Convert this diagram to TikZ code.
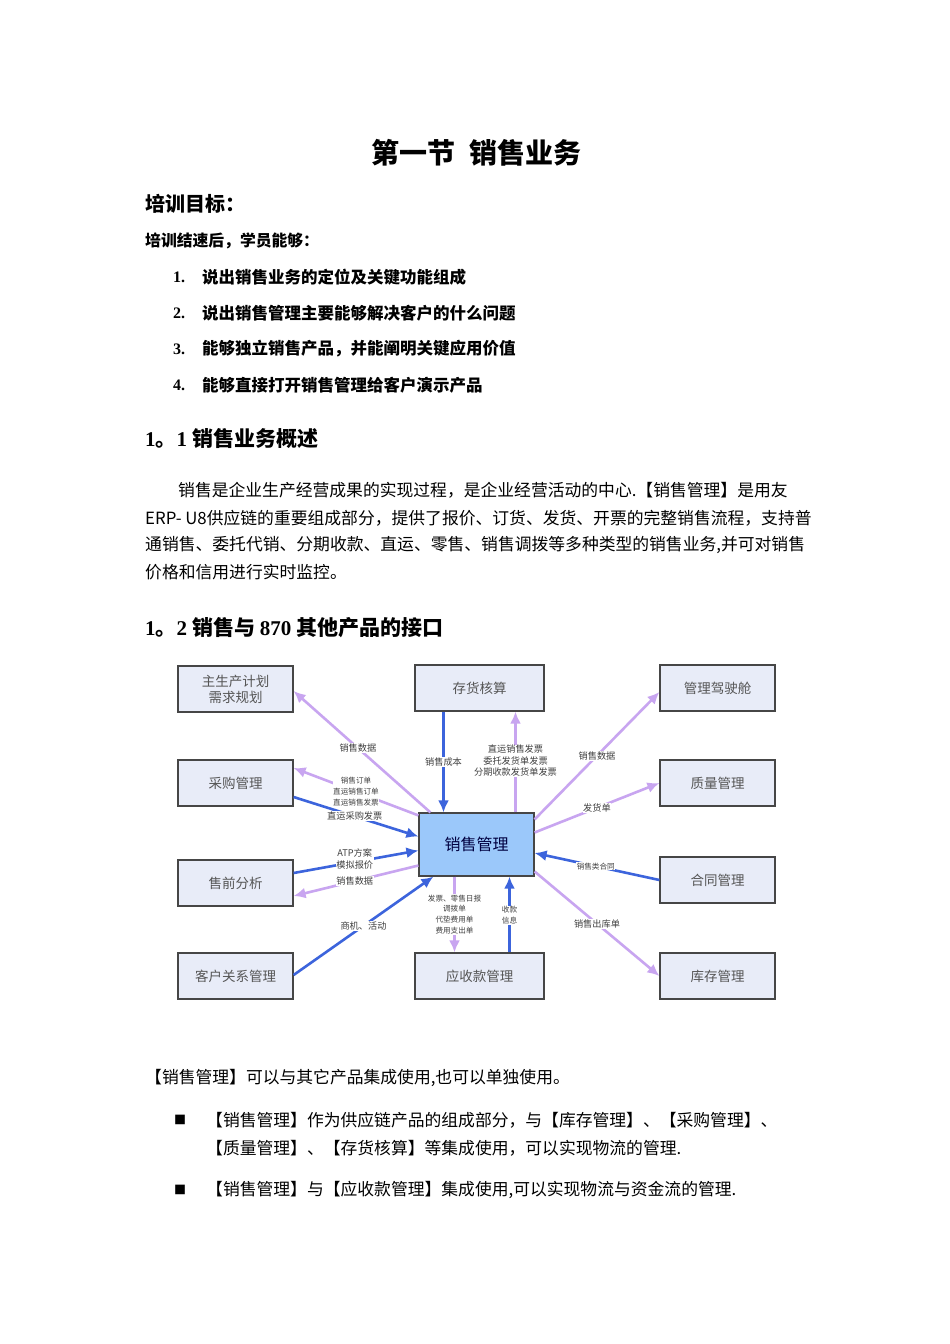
\documentclass[tikz,border=0pt]{standalone}
\usepackage{fontspec}
\setmainfont{Liberation Serif}
\newfontfamily\cjk{Noto Sans CJK SC}
\usetikzlibrary{arrows.meta,positioning}

\definecolor{boxfill}{RGB}{232,236,248}
\definecolor{boxline}{RGB}{70,70,70}
\definecolor{salesfill}{RGB}{155,200,250}
\definecolor{flowblue}{RGB}{60,100,220}
\definecolor{flowpurple}{RGB}{200,165,240}
\definecolor{boxtext}{RGB}{85,85,85}
\newcommand{\fsz}[2]{\fontsize{#1}{#2}\selectfont}

\begin{document}
\begin{tikzpicture}[x=1pt,y=-1pt,
    txt/.style={anchor=west, inner sep=0pt, font=\cjk\fsz{16.8}{20}},
    head/.style={anchor=west, inner sep=0pt, font=\cjk\bfseries\fsz{21}{24}},
    item/.style={anchor=west, inner sep=0pt, font=\cjk\bfseries\fsz{16.5}{20}},
    num/.style={anchor=west, inner sep=0pt, font=\rmfamily\bfseries\fsz{16}{20}},
    mod/.style={draw=boxline, line width=1.2pt, fill=boxfill, minimum width=115pt, minimum height=46pt, inner sep=0pt, align=center, font=\cjk\fsz{13.5}{16}, text=boxtext},
    lbl/.style={fill=white, inner sep=0.6pt, align=center, font=\cjk\fsz{9.2}{11.5}, text=black!75},
    smalllbl/.style={lbl, font=\cjk\fsz{7.6}{10.8}},
    barr/.style={-{Latex[length=12pt,width=11pt]}, line width=2.6pt, draw=flowblue},
    parr/.style={-{Latex[length=12pt,width=11pt]}, line width=2.6pt, draw=flowpurple}
]
\useasboundingbox[fill=white] (0,0) rectangle (950,1344);

% headings and goals
\node[inner sep=0pt, font=\cjk\bfseries\fsz{28}{32}] (title) at (476,153) {第一节\hspace{0.5em}销售业务};
\node[head, font=\cjk\bfseries\fsz{20}{24}] (goal) at (145,204) {培训目标：};
\node[item, font=\cjk\bfseries\fsz{15.8}{20}] (intro) at (145,241) {培训结速后，学员能够：};
\foreach \n/\y/\t in {1/277/说出销售业务的定位及关键功能组成,
                      2/313/说出销售管理主要能够解决客户的什么问题,
                      3/349/能够独立销售产品，并能阐明关键应用价值,
                      4/385/能够直接打开销售管理给客户演示产品}{
  \node[num] (n\n) at (173,\y) {\n.};
  \node[item] (g\n) at (202,\y) {\t};
}

\node[head] (sec1) at (145,438) {{\rmfamily 1}。{\rmfamily 1} 销售业务概述};
\node[txt] (p1) at (178,490) {销售是企业生产经营成果的实现过程，是企业经营活动的中心.【销售管理】是用友};
\node[txt] (p2) at (145,518) {ERP- U8供应链的重要组成部分，提供了报价、订货、发货、开票的完整销售流程，支持普};
\node[txt] (p3) at (145,545) {通销售、委托代销、分期收款、直运、零售、销售调拨等多种类型的销售业务,并可对销售};
\node[txt] (p4) at (145,572) {价格和信用进行实时监控。};

\node[head] (sec2) at (145,628) {{\rmfamily 1}。{\rmfamily 2} 销售与 {\rmfamily 870} 其他产品的接口};

% diagram
\node[mod] (mps) at (235.5,689) {主生产计划\\需求规划};
\node[mod, minimum width=129pt] (inv) at (479.5,688) {存货核算};
\node[mod] (cock) at (717.5,688) {管理驾驶舱};
\node[mod] (pur) at (235.5,783) {采购管理};
\node[mod] (qual) at (717.5,783) {质量管理};
\node[mod, fill=salesfill, minimum height=63pt, font=\cjk\fsz{16}{18}, text=black!75!blue] (sales) at (476.5,844.5) {销售管理};
\node[mod] (pre) at (235.5,883) {售前分析};
\node[mod] (cont) at (717.5,880) {合同管理};
\node[mod] (crm) at (235.5,976) {客户关系管理};
\node[mod, minimum width=129pt] (ar) at (479.5,976) {应收款管理};
\node[mod] (stock) at (717.5,976) {库存管理};

\draw[parr] ([xshift=12pt]sales.north west) -- node[lbl, pos=0.53] {销售数据} ([yshift=-2pt]mps.east);
\draw[parr] ([yshift=-3pt]sales.north west) -- node[smalllbl, pos=0.5] {销售订单\\直运销售订单\\直运销售发票} ([yshift=15pt]pur.east);
\draw[barr] ([yshift=-14pt]pur.east) -- node[lbl, pos=0.49] {直运采购发票} ([yshift=8pt]sales.west);
\draw[barr] ([yshift=10pt]pre.east) -- node[lbl, pos=0.49, yshift=3pt] {ATP方案\\模拟报价} ([yshift=-6pt]sales.west);
\draw[parr] ([yshift=-21pt]sales.west) -- node[lbl, pos=0.51] {销售数据} ([yshift=-13pt]pre.east);
\draw[barr] ([yshift=1pt]crm.east) -- node[lbl, pos=0.5] {商机、活动} ([xshift=15pt]sales.south west);
\draw[barr] ([xshift=-36pt]inv.south) -- node[lbl, pos=0.5] {销售成本} ([xshift=-36pt]inv.south |- sales.north);
\draw[parr] ([xshift=36pt]inv.south |- sales.north) -- node[lbl, pos=0.51] {直运销售发票\\委托发货单发票\\分期收款发货单发票} ([xshift=36pt]inv.south);
\draw[parr] ([yshift=-7pt]sales.north east) -- node[lbl, pos=0.5] {销售数据} ([yshift=-4pt]cock.west);
\draw[parr] ([yshift=12pt]sales.east) -- node[lbl, pos=0.5] {发货单} (qual.west);
\draw[barr] (cont.west) -- node[smalllbl, pos=0.51] {销售类合同} ([yshift=-8.5pt]sales.east);
\draw[parr] ([yshift=-27pt]sales.east) -- node[lbl, pos=0.5] {销售出库单} (stock.west);
\draw[parr] ([xshift=-22pt]sales.south) -- node[smalllbl, pos=0.5] {发票、零售日报\\调拨单\\代垫费用单\\费用支出单} ([xshift=-22pt]sales.south |- ar.north);
\draw[barr] ([xshift=33pt]sales.south |- ar.north) -- node[smalllbl, pos=0.49] {收款\\信息} ([xshift=33pt]sales.south);

% closing text
\node[txt] (note) at (145,1078) {【销售管理】可以与其它产品集成使用,也可以单独使用。};
\node[txt, font=\cjk\fsz{12}{14}] (b1) at (174,1120) {■};
\node[txt] (t1) at (206,1120) {【销售管理】作为供应链产品的组成部分，与【库存管理】、【采购管理】、};
\node[txt] (t1b) at (206,1148) {【质量管理】、【存货核算】等集成使用，可以实现物流的管理.};
\node[txt, font=\cjk\fsz{12}{14}] (b2) at (174,1190) {■};
\node[txt] (t2) at (206,1190) {【销售管理】与【应收款管理】集成使用,可以实现物流与资金流的管理.};
\end{tikzpicture}
\end{document}
